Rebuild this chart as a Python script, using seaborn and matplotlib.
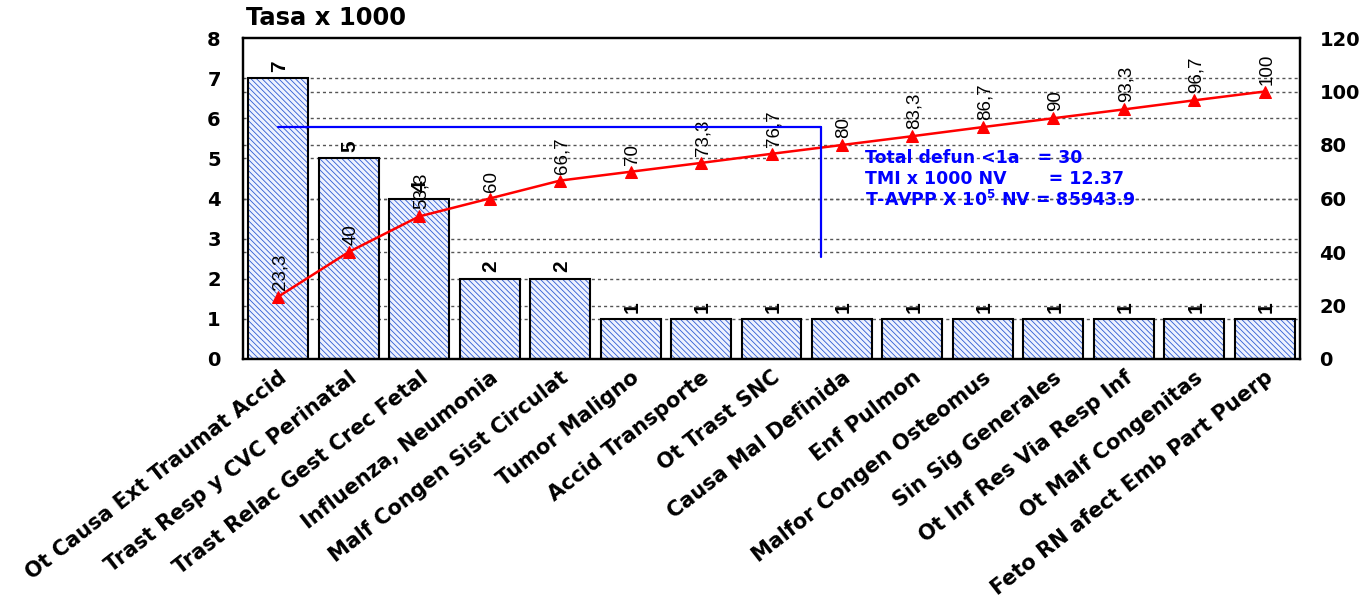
import numpy as np
import pandas as pd
import matplotlib
matplotlib.use("Agg")
import matplotlib.pyplot as plt
from matplotlib.patches import Rectangle
import seaborn as sns

# ---- data -------------------------------------------------------------
causes = [
    "Ot Causa Ext Traumat Accid",
    "Trast Resp y CVC Perinatal",
    "Trast Relac Gest Crec Fetal",
    "Influenza, Neumonia",
    "Malf Congen Sist Circulat",
    "Tumor Maligno",
    "Accid Transporte",
    "Ot Trast SNC",
    "Causa Mal Definida",
    "Enf Pulmon",
    "Malfor Congen Osteomus",
    "Sin Sig Generales",
    "Ot Inf Res Via Resp Inf",
    "Ot Malf Congenitas",
    "Feto RN afect Emb Part Puerp",
]
rates = [7, 5, 4, 2, 2, 1, 1, 1, 1, 1, 1, 1, 1, 1, 1]
cum_pct = [23.3, 40, 53.3, 60, 66.7, 70, 73.3, 76.7, 80, 83.3, 86.7, 90, 93.3, 96.7, 100]
left_ticks = [0, 1, 2, 3, 4, 5, 6, 7, 8]
right_ticks = [0, 20, 40, 60, 80, 100, 120]
summary_lines = [
    "Total defun <1a   = 30",
    "TMI x 1000 NV       = 12.37",
    r"T-AVPP X 10$^{\mathbf{5}}$ NV = 85943.9",
]
# pointer marking the 80-90 % cut
pointer_pct = 86.7
pointer_x = 7.70
pointer_bottom_pct = 38

df = pd.DataFrame({"causa": causes, "tasa": rates})

# ---- style ------------------------------------------------------------
sns.set_theme(style="white")
plt.rcParams["font.family"] = ["DejaVu Sans"]
plt.rcParams["text.color"] = "black"
plt.rcParams["xtick.color"] = "black"
plt.rcParams["ytick.color"] = "black"
plt.rcParams["hatch.linewidth"] = 0.6
HATCH_BLUE = "#2f5bd3"
BAR_FACE = "#eef2ff"
GRID = "#555555"
LABEL_FONT = ["Liberation Sans", "DejaVu Sans"]

fig = plt.figure(figsize=(13.66, 6.03), dpi=100)
ax = fig.add_axes([243 / 1366, 1 - 359 / 603, (1300 - 243) / 1366, (359 - 38) / 603])

# hatched bars
sns.barplot(data=df, x="causa", y="tasa", ax=ax, color=BAR_FACE, saturation=1,
            edgecolor=HATCH_BLUE, linewidth=0, width=0.85, hatch="\\\\\\\\\\\\", zorder=2)
# black outlines on top of each hatched bar, with the value above it
for p in list(ax.patches):
    ax.add_patch(Rectangle(p.get_xy(), p.get_width(), p.get_height(), fill=False,
                           edgecolor="black", linewidth=1.5, zorder=3))
    ax.annotate(f"{p.get_height():g}", (p.get_x() + p.get_width() / 2, p.get_height()),
                xytext=(1, 4.5), textcoords="offset points", rotation=90,
                ha="center", va="bottom", fontsize=15, fontweight="bold",
                family=LABEL_FONT, color="black", zorder=4)

ax.set_xlim(-0.5, len(causes) - 0.5)
ax.set_ylim(left_ticks[0], left_ticks[-1])
ax.set_yticks(left_ticks)
ax.set_xlabel("")
ax.set_ylabel("")

# dashed grid for both scales, kept behind the bars
dash = (0, (2.2, 2.2))
ax.hlines(left_ticks[1:-1], -0.5, len(causes) - 0.5, colors=GRID, linestyles=[dash],
          linewidth=1.0, zorder=0.5)
ax.hlines([t * left_ticks[-1] / right_ticks[-1] for t in right_ticks[1:-1]],
          -0.5, len(causes) - 0.5, colors=GRID, linestyles=[dash], linewidth=1.0, zorder=0.5)

ax.tick_params(axis="y", length=0, pad=16, labelsize=14)
ax.tick_params(axis="x", length=0, pad=6)
for lab in ax.get_yticklabels():
    lab.set_fontweight("bold")
ax.set_xticks(range(len(causes)))
ax.set_xticklabels(causes, rotation=38, ha="right", rotation_mode="anchor",
                   fontsize=15, fontweight="bold")

# cumulative percentage on the right scale
ax2 = ax.twinx()
ax2.set_ylim(right_ticks[0], right_ticks[-1])
ax2.set_yticks(right_ticks)
xpos = np.arange(len(causes))
sns.lineplot(x=xpos, y=cum_pct, ax=ax2, color="red", linewidth=1.8, marker="^",
             markersize=9, markeredgecolor="red", markerfacecolor="red", zorder=5)
for xi, v in zip(xpos, cum_pct):
    ax2.annotate(f"{v:g}".replace(".", ","), (xi, v), xytext=(1.5, 5),
                 textcoords="offset points", rotation=90, ha="center", va="bottom",
                 fontsize=13.5, family=LABEL_FONT, color="black")
ax2.tick_params(axis="y", length=0, pad=14, labelsize=14)
for lab in ax2.get_yticklabels():
    lab.set_fontweight("bold")
ax2.set_ylabel("")

# blue pointer lines
ax2.plot([0, pointer_x], [pointer_pct, pointer_pct], color="#0000ff", linewidth=1.6, zorder=6)
ax2.plot([pointer_x, pointer_x], [pointer_pct, pointer_bottom_pct], color="#0000ff",
         linewidth=1.6, zorder=6)

# summary text
for i, line in enumerate(summary_lines):
    ax2.text(8.33, 75.2 - i * 7.9, line, color="#0000ff", fontsize=12.5,
             fontweight="bold", ha="left", va="center", zorder=7)

for a in (ax, ax2):
    for s in a.spines.values():
        s.set_visible(True)
        s.set_color("black")
        s.set_linewidth(1.6)

ax.text(0.003, 1.025, "Tasa x 1000", transform=ax.transAxes, fontsize=17.5,
        fontweight="bold", ha="left", va="bottom", color="black")

fig.savefig("out.png", dpi=100)
